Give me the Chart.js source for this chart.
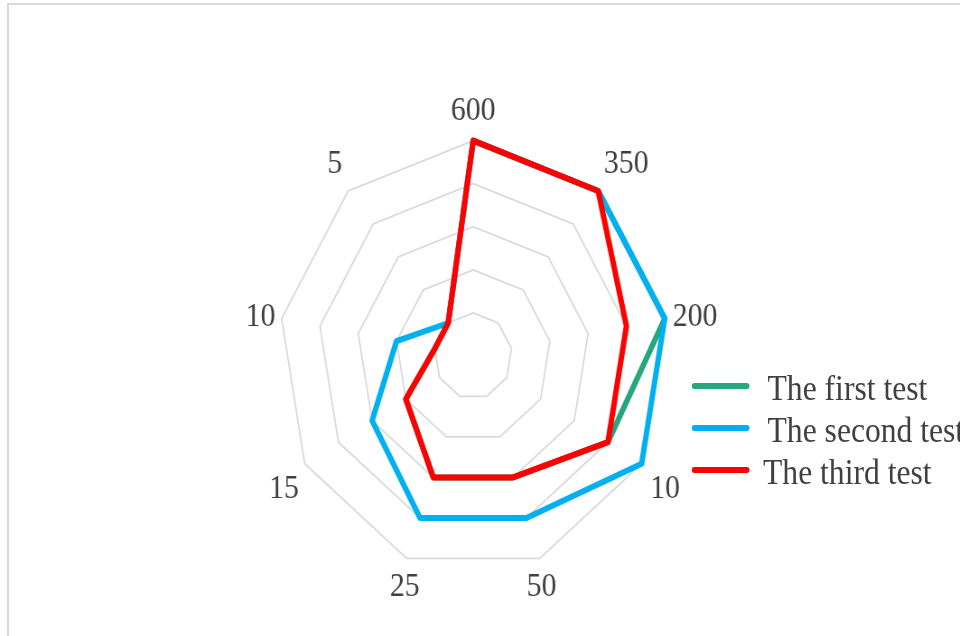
<!DOCTYPE html>
<html lang="en">

<head>
    <meta charset="UTF-8">
    <title>Radar - three tests</title>
    <script src="https://cdn.jsdelivr.net/npm/chart.js"></script>
    <style>
        html, body { margin: 0; padding: 0; background: #fff; overflow: hidden; }
        body { width: 960px; height: 636px; position: relative; }
        #frame { position: absolute; left: 7px; top: 3px; width: 1000px; height: 700px;
                 border-top: 2px solid #d9d9d9; border-left: 2px solid #d9d9d9; }
        /* the source picture is squeezed sideways, so the whole chart is too */
        #stage { position: absolute; left: 0; top: 0; width: 1064px; height: 636px;
                 transform: scaleX(0.903); transform-origin: 0 0; }
        #legend { position: absolute; left: 766px; top: 365px; color: #404040;
                  font-family: 'Liberation Serif', 'Times New Roman', serif; font-size: 35px; }
        .item { display: flex; align-items: center; height: 42px; white-space: nowrap; }
        .swatch { display: inline-block; width: 64px; height: 6px; border-radius: 3px; }
        .txt { position: relative; top: 3px; }
    </style>
</head>

<body>
    <div id="frame"></div>
    <div id="stage">
        <canvas id="radar" width="1064" height="636"></canvas>
        <div id="legend"></div>
    </div>

    <script>
        const categories = ['600', '350', '200', '10', '50', '25', '15', '10', '5'];
        const firstTest = [100, 100, 100, 80, 60, 60, 40, 20, 20];
        const secondTest = [100, 100, 100, 100, 80, 80, 60, 40, 20];
        const thirdTest = [100, 100, 80, 80, 60, 60, 40, 20, 20];
        const seriesNames = ['The first test', 'The second test', 'The third test'];
        const axisMin = 0;
        const axisMax = 100;
        const axisStep = 20;

        // per-label nudges so the category labels sit where Excel put them
        const labelPad = [9, 9.6, 9, 11, -42.4, -42.4, 7.5, 7, 10];
        const labelLineHeight = [1.2, 1.2, 0, 1.25, 1.38, 1.38, 1.35, 0, 1.13];
        const labelDrop = [false, false, false, false, true, true, false, false, false];
        const legendGap = [20, 20, 15];

        const serif = "'Liberation Serif', 'Times New Roman', serif";

        const chart = new Chart(document.getElementById('radar'), {
            type: 'radar',
            data: {
                labels: categories,
                datasets: [
                    { label: seriesNames[0], data: firstTest, borderColor: '#25A77F', fill: false, order: 3 },
                    { label: seriesNames[1], data: secondTest, borderColor: '#00B0F0', fill: false, order: 2 },
                    { label: seriesNames[2], data: thirdTest, borderColor: '#FF0000', fill: false, order: 1 }
                ]
            },
            options: {
                responsive: false,
                animation: false,
                layout: { padding: { left: 204, right: 220, top: 87, bottom: 21 } },
                elements: {
                    line: { borderWidth: 6, fill: false, tension: 0, borderJoinStyle: 'round', borderCapStyle: 'round' },
                    point: { radius: 0, hoverRadius: 0 }
                },
                plugins: {
                    legend: { display: false },
                    tooltip: { enabled: false }
                },
                scales: {
                    r: {
                        min: axisMin,
                        max: axisMax,
                        ticks: { display: false, stepSize: axisStep },
                        grid: { color: '#d9d9d9', lineWidth: 1.75 },
                        angleLines: { display: false },
                        pointLabels: {
                            color: '#404040',
                            padding: (ctx) => labelPad[ctx.index],
                            font: (ctx) => ({ family: serif, size: 33, lineHeight: labelLineHeight[ctx.index] }),
                            callback: (label, i) => labelDrop[i] ? ['', label] : label
                        }
                    }
                }
            }
        });

        // legend built from the chart's own datasets
        const legendBox = document.getElementById('legend');
        chart.data.datasets.forEach((ds, i) => {
            const row = document.createElement('div');
            row.className = 'item';
            const sw = document.createElement('span');
            sw.className = 'swatch';
            sw.style.background = ds.borderColor;
            const txt = document.createElement('span');
            txt.className = 'txt';
            txt.style.marginLeft = legendGap[i] + 'px';
            txt.textContent = ds.label;
            row.append(sw, txt);
            legendBox.appendChild(row);
        });
    </script>
</body>

</html>
